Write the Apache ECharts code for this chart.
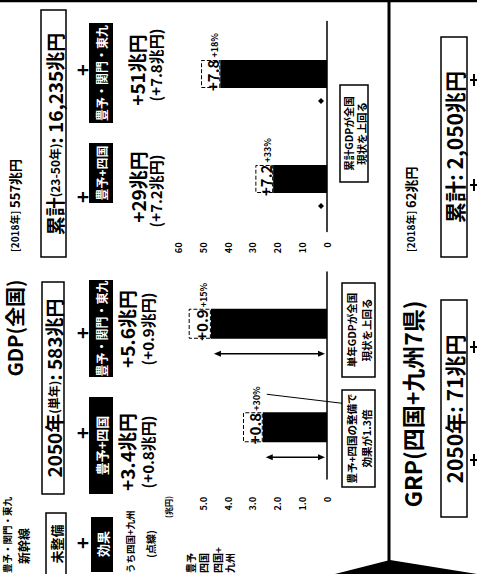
<!DOCTYPE html>
<html><head><meta charset="utf-8">
<script src="https://cdn.jsdelivr.net/npm/echarts@6/dist/echarts.min.js"></script>
<style>
html,body{margin:0;padding:0;background:#fff;width:477px;height:574px;overflow:hidden;}
#wrap{position:absolute;left:0;top:0;width:574px;height:477px;transform-origin:0 0;transform:translate(0px,574px) rotate(-90deg);background:#fff;}
</style></head><body><div id="wrap"></div>
<script>
// ---- data (兆円) ----
const singleCats = ['豊予+四国', '豊予・関門・東九'];
const singleRest = [2.6, 4.7];      // 全国効果のうち四国+九州以外
const singleKyushu = [0.8, 0.9];    // うち四国+九州(点線)
const singlePct = ['+30%', '+15%'];
const cumCats = ['豊予+四国', '豊予・関門・東九'];
const cumRest = [21.8, 43.2];
const cumKyushu = [7.2, 7.8];
const cumPct = ['+33%', '+18%'];
const singleTicks = { min: 0, max: 6, interval: 1 };
const cumTicks = { min: 0, max: 60, interval: 10 };

const FONT = '"Noto Sans CJK JP","Noto Sans",sans-serif';
const chart = echarts.init(document.getElementById('wrap'), null, {renderer:'svg', width:574, height:477});

function segLabel(pcts){
  return {
    show:true, position:'inside', offset:[12,1],
    formatter: p => '{v|+' + p.value.toFixed(1) + '}{p|' + pcts[p.dataIndex] + '}',
    rich:{
      v:{fontSize:15,fontWeight:'bold',color:'#000',fontFamily:FONT,lineHeight:16,verticalAlign:'bottom'},
      p:{fontSize:9,fontWeight:'bold',color:'#000',fontFamily:FONT,lineHeight:16,verticalAlign:'bottom',padding:[0,0,1,2]}
    }
  };
}
const segStyle = {color:'#fff', borderColor:'#000', borderType:'dashed', borderWidth:1};
const axLabel = (margin, fmt) => ({margin, fontSize:9, fontWeight:'bold', color:'#000', fontFamily:FONT, formatter: fmt});

chart.setOption({
  animation:false,
  backgroundColor:'#fff',
  grid:[
    {left:95, width:207, top:178.8, bottom:150},
    {left:342.5, width:210, top:178.8, bottom:150}
  ],
  xAxis:[
    {gridIndex:0, type:'category', data:singleCats, axisLine:{lineStyle:{color:'#000',width:1.5}}, axisTick:{show:false}, axisLabel:{show:false}},
    {gridIndex:1, type:'category', data:cumCats, axisLine:{lineStyle:{color:'#000',width:1.5}}, axisTick:{show:false}, axisLabel:{show:false}}
  ],
  yAxis:[
    Object.assign({gridIndex:0, type:'value', splitLine:{show:false}, axisLine:{show:false}, axisTick:{show:false},
      axisLabel: axLabel(18, v => v === singleTicks.max ? '' : (v === 0 ? '0' : v.toFixed(1)))}, singleTicks),
    Object.assign({gridIndex:1, type:'value', splitLine:{show:false}, axisLine:{show:false}, axisTick:{show:false},
      axisLabel: axLabel(11, v => String(v))}, cumTicks)
  ],
  series:[
    {type:'bar', xAxisIndex:0, yAxisIndex:0, stack:'s', barWidth:30, data:singleRest, itemStyle:{color:'#000'}},
    {type:'bar', xAxisIndex:0, yAxisIndex:0, stack:'s', barWidth:30, data:singleKyushu, itemStyle:segStyle, label:segLabel(singlePct)},
    {type:'bar', xAxisIndex:1, yAxisIndex:1, stack:'c', barWidth:28, data:cumRest, itemStyle:{color:'#000'}},
    {type:'bar', xAxisIndex:1, yAxisIndex:1, stack:'c', barWidth:28, data:cumKyushu, itemStyle:segStyle, label:segLabel(cumPct)}
  ]
});

// ---- annotation helpers ----
function txt(x, y, text, size, o){
  o = o || {};
  const al = o.align || 'center';
  return {type:'text', z:100, silent:true, style:{x, y, text, fill:o.fill||'#000',
    font:(o.weight||'bold')+' '+size+'px '+FONT, align:al, textAlign:al, verticalAlign:'middle', textVerticalAlign:'middle', rich:o.rich}};
}
function tok(size, weight, fill){ return {fill:fill||'#000', font:(weight||'bold')+' '+size+'px '+FONT, fontSize:size, fontWeight:weight||'bold', fontFamily:FONT}; }
function rect(x, y, w, h, fill, stroke, lw){
  return {type:'rect', z:90, silent:true, shape:{x, y, width:w, height:h}, style:{fill, stroke:stroke||null, lineWidth:lw||0}};
}
function line(x1,y1,x2,y2,lw){ return {type:'line', z:95, silent:true, shape:{x1,y1,x2,y2}, style:{stroke:'#000', lineWidth:lw||1}}; }
function poly(points){ return {type:'polygon', z:95, silent:true, shape:{points}, style:{fill:'#000'}}; }
function dArrow(x, y1, y2){
  return [line(x, y1+5, x, y2-5, 1.5), poly([[x,y1],[x-3,y1+7],[x+3,y1+7]]), poly([[x,y2],[x-3,y2-7],[x+3,y2-7]])];
}

const g = [];
// header
g.push(txt(246, 14, 'GDP(全国)', 20));
g.push(txt(322, 14, '{a|[2018年]} {b|557兆円}', 13, {align:'left', rich:{a:tok(10), b:tok(13)}}));
g.push(rect(80, 42, 212, 22, '#fff', '#000', 1.5));
g.push(txt(186, 53, '{a|2050年}{s|(単年)}{a|: 583兆円}', 19, {rich:{a:tok(19), s:tok(12)}}));
g.push(rect(317, 41, 247, 25, '#fff', '#000', 1.5));
g.push(txt(440, 54, '{a|累計}{s|(23-50年)}{a|: 16,235兆円}', 19, {rich:{a:tok(19), s:tok(12)}}));
[31, 141, 241, 377, 504].forEach(u => g.push(txt(u, 81, '+', 20)));
// black scenario boxes
[[80,97,'豊予+四国',13],[197,97,'豊予・関門・東九',12],[371,60,'豊予+四国',12],[451,100,'豊予・関門・東九',12]].forEach(b => {
  g.push(rect(b[0], 89, b[1], 24, '#000'));
  g.push(txt(b[0]+b[1]/2, 101, b[2], b[3], {fill:'#fff'}));
});
// totals
g.push(txt(122, 126, '+3.4兆円', 19)); g.push(txt(122, 147, '(+0.8兆円)', 15));
g.push(txt(245, 126, '+5.6兆円', 19)); g.push(txt(245, 147, '(+0.9兆円)', 15));
g.push(txt(387, 137, '+29兆円', 19)); g.push(txt(383, 155, '(+7.2兆円)', 15));
g.push(txt(504, 136, '+51兆円', 19)); g.push(txt(509, 155, '(+7.8兆円)', 15));
// legend
g.push(txt(1, 7, '豊予・関門・東九', 9.5, {align:'left'}));
g.push(txt(10, 23, '新幹線', 12, {align:'left'}));
g.push(rect(-2, 46, 63, 20, '#fff', '#000', 1.5));
g.push(txt(30, 56, '未整備', 13));
g.push(rect(2, 91, 55, 22, '#000'));
g.push(txt(30, 102, '効果', 13, {fill:'#fff'}));
g.push(txt(1, 130, 'うち四国+九州', 9.5, {align:'left'}));
g.push(txt(30, 150, '(点線)', 10));
g.push(txt(67, 168, '(兆円)', 8));
[['豊予',190],['四国',203],['四国+',217],['九州',229]].forEach(r => g.push(txt(1, r[1], r[0], 10, {align:'left'})));
// annotation boxes
g.push(rect(87, 342, 97, 33, '#fff', '#000', 1.5));
g.push(txt(135.5, 351, '豊予+四国の整備で', 10.5)); g.push(txt(135.5, 366, '効果が1.3倍', 10.5));
g.push(rect(197, 342, 94, 33, '#fff', '#000', 1.5));
g.push(txt(244, 351, '単年GDPが全国', 10.5)); g.push(txt(244, 366, '現状を上回る', 10.5));
g.push(rect(392, 340, 97, 28, '#fff', '#000', 1.5));
g.push(txt(440.5, 348, '累計GDPが全国', 10.5)); g.push(txt(440.5, 361, '現状を上回る', 10.5));
// separators
g.push(line(0, 389, 574, 389, 3));
g.push(line(573, 0, 573, 477, 2.5));
g.push(poly([[0,335],[14,390],[0,477]]));
// GRP section
g.push(txt(170, 412, 'GRP(四国+九州7県)', 23));
g.push(txt(322, 410, '{a|[2018年]} {b|62兆円}', 13, {align:'left', rich:{a:tok(10), b:tok(13)}}));
g.push(rect(57, 441, 217, 26, '#fff', '#000', 1.5));
g.push(txt(165, 454, '2050年: 71兆円', 21));
g.push(rect(317, 441, 220, 26, '#fff', '#000', 1.5));
g.push(txt(427, 454, '累計: 2,050兆円', 21));
// partially visible plus marks at the cut edge (drawn as strokes)
[114, 227, 389, 494].forEach(u => { g.push(line(u, 470, u, 477, 2)); g.push(line(u-6, 474, u+6, 474, 2)); });

// arrows / leader computed from the chart's own scales
const base0 = chart.convertToPixel({xAxisIndex:0, yAxisIndex:0}, [0, 0])[1];
singleRest.forEach((v, i) => {
  const p = chart.convertToPixel({xAxisIndex:0, yAxisIndex:0}, [i, v]);
  dArrow(p[0] - 30, p[1] + 3, base0 - 2).forEach(e => g.push(e));
  if (i === 0) g.push(line(p[0] + 24, 342, p[0] + 33, p[1] + 4, 1));
});
const base1 = chart.convertToPixel({xAxisIndex:1, yAxisIndex:1}, [0, 0])[1];
cumRest.forEach((v, i) => {
  const p = chart.convertToPixel({xAxisIndex:1, yAxisIndex:1}, [i, v]);
  const x = p[0] - 27, y = base1 - 6;
  g.push(poly([[x, y-3], [x+3, y], [x, y+3], [x-3, y]]));
});
chart.setOption({graphic: g});
</script></body></html>
